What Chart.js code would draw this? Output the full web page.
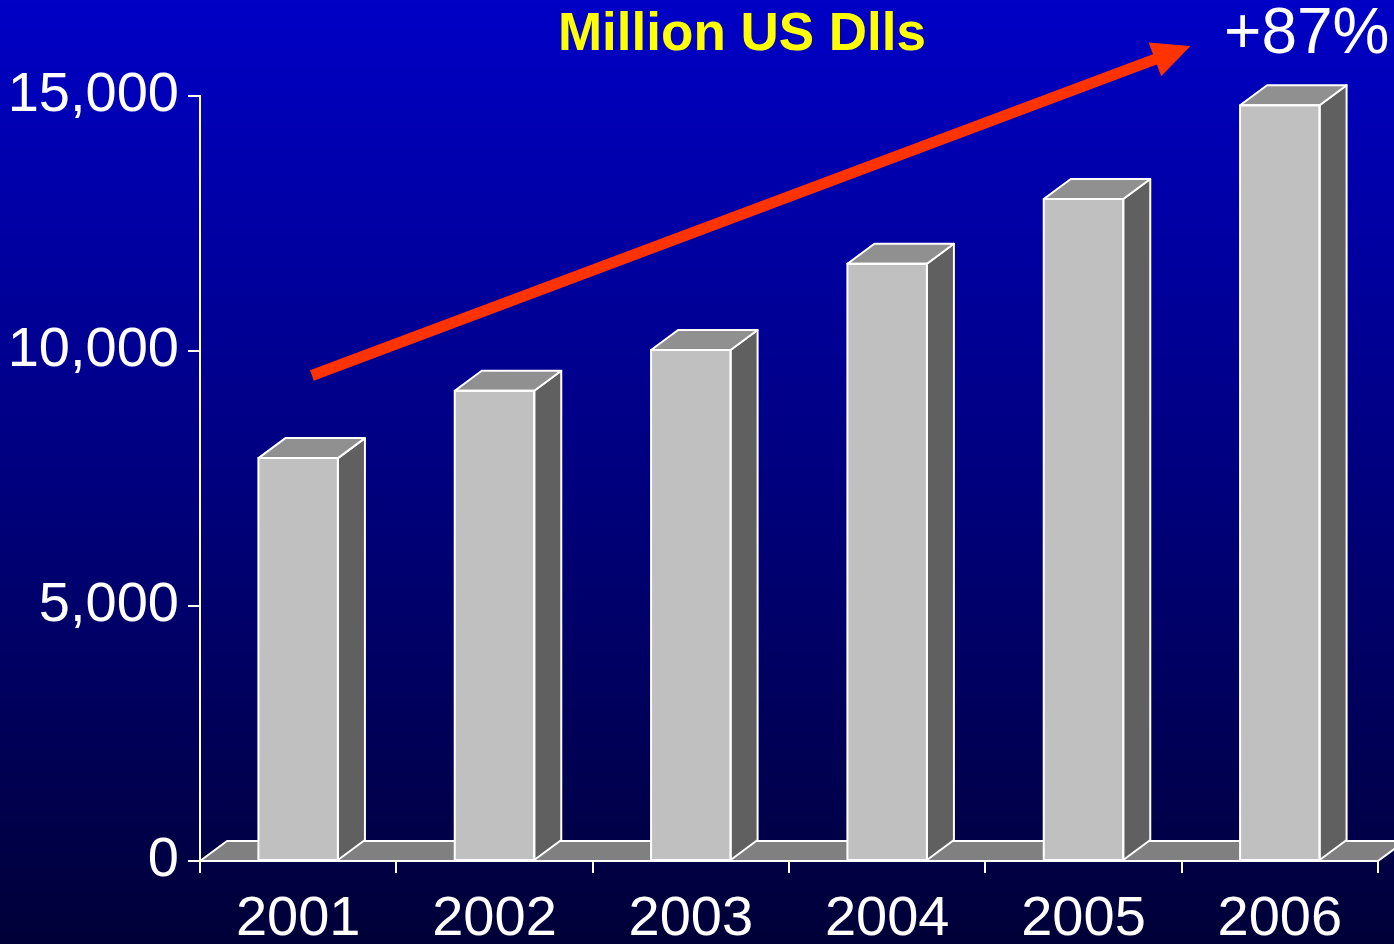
<!DOCTYPE html>
<html><head><meta charset="utf-8">
<script src="https://cdn.jsdelivr.net/npm/chart.js@4/dist/chart.umd.min.js"></script>
<style>
html,body{margin:0;padding:0;background:#000;overflow:hidden}
canvas{display:block}
</style>
</head><body>
<canvas id="c" width="1394" height="944" style="width:1394px;height:944px"></canvas>
<script>
// ---- data ----
const categories = ['2001', '2002', '2003', '2004', '2005', '2006'];
const values = [7900, 9220, 10020, 11710, 12980, 14820];
const yTicks = [0, 5000, 10000, 15000];
const titleText = 'Million US Dlls';
const growthText = '+87%';
// trend arrow anchored in data space: [category index, value]
const arrowFrom = [0.07, 9520];
const arrowTo = [4.545, 15980];

const FONT = '"Liberation Sans", Arial, Helvetica, sans-serif';

const bgPlugin = {
  id: 'bg',
  beforeDraw(chart) {
    const ctx = chart.ctx;
    const g = ctx.createLinearGradient(0, 0, 0, chart.height);
    g.addColorStop(0, '#0000C6');
    g.addColorStop(1, '#000038');
    ctx.save();
    ctx.fillStyle = g;
    ctx.fillRect(0, 0, chart.width, chart.height);
    ctx.restore();
  }
};

const DX = 27, DY = 20;

const floorPlugin = {
  id: 'floor',
  beforeDatasetsDraw(chart) {
    const ctx = chart.ctx, a = chart.chartArea;
    const base = chart.scales.y.getPixelForValue(0);
    ctx.save();
    ctx.beginPath();
    ctx.moveTo(a.left, base);
    ctx.lineTo(a.left + DX, base - DY);
    ctx.lineTo(a.right + DX, base - DY);
    ctx.lineTo(a.right, base);
    ctx.closePath();
    ctx.fillStyle = '#808080';
    ctx.fill();
    ctx.strokeStyle = '#FFFFFF';
    ctx.lineWidth = 2;
    ctx.lineJoin = 'round';
    ctx.stroke();
    ctx.restore();
  },
  afterDatasetsDraw(chart) {
    const ctx = chart.ctx;
    const meta = chart.getDatasetMeta(0);
    ctx.save();
    ctx.strokeStyle = '#FFFFFF';
    ctx.lineWidth = 2;
    ctx.lineJoin = 'round';
    meta.data.forEach(bar => {
      const p = bar.getProps(['x', 'y', 'base', 'width'], true);
      const l = p.x - p.width / 2, r = p.x + p.width / 2;
      // side
      ctx.beginPath();
      ctx.moveTo(r, p.y);
      ctx.lineTo(r + DX, p.y - DY);
      ctx.lineTo(r + DX, p.base - DY);
      ctx.lineTo(r, p.base);
      ctx.closePath();
      ctx.fillStyle = '#606060';
      ctx.fill();
      ctx.stroke();
      // top
      ctx.beginPath();
      ctx.moveTo(l, p.y);
      ctx.lineTo(l + DX, p.y - DY);
      ctx.lineTo(r + DX, p.y - DY);
      ctx.lineTo(r, p.y);
      ctx.closePath();
      ctx.fillStyle = '#909090';
      ctx.fill();
      ctx.stroke();
      // front outline
      ctx.strokeRect(l, p.y, p.width, p.base - p.y);
    });
    // trend arrow
    const xs = chart.scales.x, ys = chart.scales.y;
    const x0 = xs.getPixelForValue(arrowFrom[0]), y0 = ys.getPixelForValue(arrowFrom[1]);
    const x1 = xs.getPixelForValue(arrowTo[0]), y1 = ys.getPixelForValue(arrowTo[1]);
    const ang = Math.atan2(y1 - y0, x1 - x0);
    const headLen = 38, headHalf = 18, shaft = 11;
    const bx = x1 - headLen * Math.cos(ang), by = y1 - headLen * Math.sin(ang);
    ctx.strokeStyle = '#FF3300';
    ctx.lineWidth = shaft;
    ctx.lineCap = 'butt';
    ctx.beginPath();
    ctx.moveTo(x0, y0);
    ctx.lineTo(bx + 2 * Math.cos(ang), by + 2 * Math.sin(ang));
    ctx.stroke();
    ctx.fillStyle = '#FF3300';
    ctx.beginPath();
    ctx.moveTo(x1, y1);
    ctx.lineTo(bx - headHalf * Math.sin(ang), by + headHalf * Math.cos(ang));
    ctx.lineTo(bx + headHalf * Math.sin(ang), by - headHalf * Math.cos(ang));
    ctx.closePath();
    ctx.fill();
    ctx.restore();
  },
  afterDraw(chart) {
    const ctx = chart.ctx;
    ctx.save();
    ctx.textBaseline = 'alphabetic';
    ctx.textAlign = 'center';
    ctx.fillStyle = '#FFFF00';
    ctx.font = 'bold 53px ' + FONT;
    ctx.fillText(titleText, 742, 50);
    ctx.fillStyle = '#FFFFFF';
    ctx.font = '64px ' + FONT;
    ctx.textAlign = 'left';
    ctx.fillText(growthText, 1224, 53);
    ctx.restore();
  }
};

new Chart(document.getElementById('c'), {
  type: 'bar',
  data: {
    labels: categories,
    datasets: [{
      data: values,
      backgroundColor: '#C0C0C0',
      borderColor: '#FFFFFF',
      borderWidth: 0,
      categoryPercentage: 1,
      barPercentage: 0.405
    }]
  },
  options: {
    responsive: false,
    animation: false,
    devicePixelRatio: 1,
    layout: { padding: { left: 0, right: 16, top: 96, bottom: 0 } },
    plugins: { legend: { display: false }, tooltip: { enabled: false }, title: { display: false } },
    scales: {
      x: {
        offset: true,
        grid: { offset: true, drawOnChartArea: false, drawTicks: true, tickLength: 12, color: '#FFFFFF', lineWidth: 2 },
        border: { display: true, color: '#FFFFFF', width: 2 },
        ticks: { color: '#FFFFFF', font: { family: FONT, size: 56 }, padding: 13, maxRotation: 0, autoSkip: false },
        afterFit(s) { s.height = 83; }
      },
      y: {
        min: 0,
        max: 15000,
        afterBuildTicks(s) { s.ticks = yTicks.map(v => ({ value: v })); },
        grid: { drawOnChartArea: false, drawTicks: true, tickLength: 12, color: '#FFFFFF', lineWidth: 2 },
        border: { display: true, color: '#FFFFFF', width: 2 },
        ticks: {
          color: '#FFFFFF', font: { family: FONT, size: 56 }, padding: 9,
          callback: v => Number(v).toLocaleString('en-US')
        },
        afterFit(s) { s.width = 200; }
      }
    }
  },
  plugins: [bgPlugin, floorPlugin]
});
</script>
</body></html>
